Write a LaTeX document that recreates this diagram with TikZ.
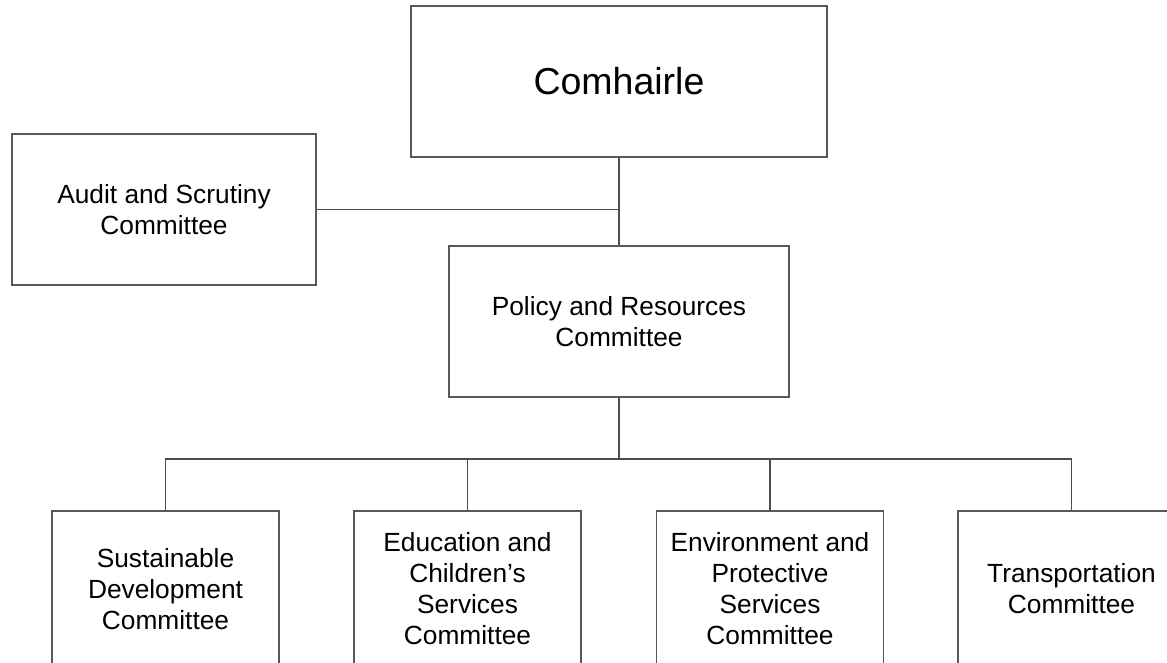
\documentclass[tikz,border=0pt]{standalone}
\usepackage{fontspec}
\setmainfont{Liberation Sans}
\begin{document}
\begin{tikzpicture}[x=1pt,y=-1pt,
  box/.style={draw=black!65, line width=1.2pt, inner sep=0pt, align=center,
    font=\fontsize{26.3}{31}\selectfont},
  bigbox/.style={box, font=\fontsize{37.5}{42}\selectfont},
  lowbox/.style={box, minimum width=227pt, minimum height=156pt},
  conn/.style={draw=black!70, line width=1.2pt}]
\useasboundingbox (0,0) rectangle (1167,662);
\clip (0,0) rectangle (1167,662);
\node[bigbox, minimum width=416pt, minimum height=151pt] (com) at (619,81.5) {Comhairle};
\node[box, minimum width=304pt, minimum height=151pt] (aud) at (164,209.5) {Audit and Scrutiny\\Committee};
\node[box, minimum width=340pt, minimum height=151pt] (pol) at (619,321.5) {Policy and Resources\\Committee};
\node[lowbox] (sus) at (165.5,589) {Sustainable\\Development\\Committee};
\node[lowbox] (edu) at (467.5,589) {Education and\\Children’s\\Services\\Committee};
\node[lowbox] (env) at (770,589) {Environment and\\Protective\\Services\\Committee};
\node[lowbox] (tra) at (1071.5,589) {Transportation\\Committee};
\coordinate (bus) at (619,459);
\coordinate (j) at (com.south |- aud.east);
\draw[conn] (com.south) -- (pol.north);
\draw[conn] (aud.east) -- (j);
\draw[conn] (pol.south) -- (bus);
\draw[conn] (sus.north) -- (sus.north |- bus) -- (tra.north |- bus) -- (tra.north);
\draw[conn] (edu.north) -- (edu.north |- bus);
\draw[conn] (env.north) -- (env.north |- bus);
\end{tikzpicture}
\end{document}
